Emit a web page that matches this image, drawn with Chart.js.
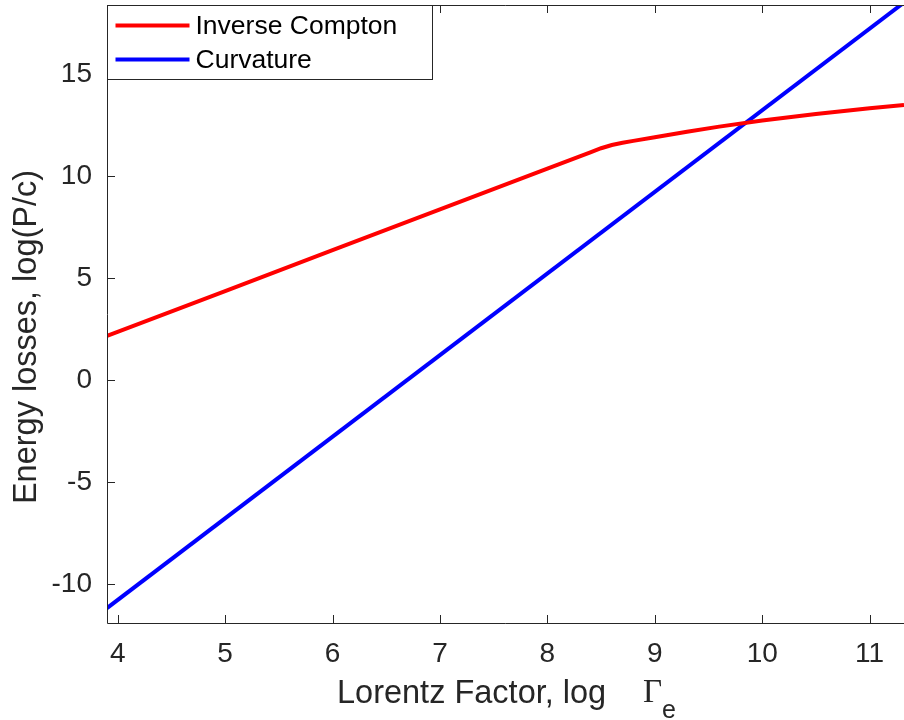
<!DOCTYPE html>
<html>
<head>
<meta charset="utf-8">
<title>Energy losses</title>
<script src="https://cdn.jsdelivr.net/npm/chart.js@4/dist/chart.umd.min.js"></script>
<style>
  html, body { margin: 0; padding: 0; background: #fff; }
  #wrap { width: 904px; height: 720px; position: relative; }
</style>
</head>
<body>
<div id="wrap"><canvas id="myChart" width="904" height="720"></canvas></div>
<script>
// log Lorentz factor vs. log(P/c)
const icGamma = [3.9, 5, 6, 7, 8, 8.4, 8.5, 8.6, 8.7, 8.8, 9.0, 9.3, 9.6, 10, 10.5, 11, 11.32];
const icLoss  = [2.16, 4.36, 6.36, 8.36, 10.36, 11.16, 11.36, 11.52, 11.63, 11.72, 11.9, 12.17, 12.42, 12.72, 13.04, 13.32, 13.48];
const curvGamma = [3.9, 11.32];
const curvLoss  = [-11.18, 18.5];
const seriesNames = ['Inverse Compton', 'Curvature'];
const xTicks = [4, 5, 6, 7, 8, 9, 10, 11];
const yTicks = [-10, -5, 0, 5, 10, 15];

const ink = '#262626';
const sans = "'Liberation Sans', Arial, sans-serif";

function pts(xs, ys) {
    return xs.map((x, i) => ({x: x, y: ys[i]}));
}

// axes box, inward ticks, legend and axis titles
const decorations = {
    id: 'decorations',
    afterDraw(chart) {
        const ctx = chart.ctx;
        const a = chart.chartArea;
        const xs = chart.scales.x, ys = chart.scales.y;
        ctx.save();
        ctx.strokeStyle = ink;
        ctx.lineWidth = 1;
        ctx.beginPath();
        ctx.moveTo(a.left + 0.5, a.top + 0.5);
        ctx.lineTo(a.left + 0.5, a.bottom + 0.5);
        ctx.lineTo(a.right, a.bottom + 0.5);
        ctx.moveTo(a.left + 0.5, a.top + 0.5);
        ctx.lineTo(a.right, a.top + 0.5);
        xTicks.forEach(t => {
            const px = Math.round(xs.getPixelForValue(t)) + 0.5;
            ctx.moveTo(px, a.bottom);
            ctx.lineTo(px, a.bottom - 8);
            ctx.moveTo(px, a.top);
            ctx.lineTo(px, a.top + 8);
        });
        yTicks.forEach(t => {
            const py = Math.round(ys.getPixelForValue(t)) + 0.5;
            ctx.moveTo(a.left, py);
            ctx.lineTo(a.left + 8, py);
        });
        ctx.stroke();

        // legend
        const lx = a.left + 0.5, ly = a.top + 0.5, lw = 325, lh = 74;
        ctx.fillStyle = '#fff';
        ctx.fillRect(lx, ly, lw, lh);
        ctx.strokeRect(lx, ly, lw, lh);
        ctx.font = '26.5px ' + sans;
        ctx.textBaseline = 'middle';
        chart.data.datasets.forEach((ds, i) => {
            const yy = ly + 20 + i * 34;
            ctx.strokeStyle = ds.borderColor;
            ctx.lineWidth = 4;
            ctx.beginPath();
            ctx.moveTo(lx + 8, yy);
            ctx.lineTo(lx + 82, yy);
            ctx.stroke();
            ctx.fillStyle = '#000';
            ctx.fillText(ds.label, lx + 88, yy + 1);
        });

        // x title with Gamma_e
        ctx.fillStyle = ink;
        ctx.textBaseline = 'alphabetic';
        ctx.font = '32.5px ' + sans;
        ctx.fillText('Lorentz Factor, log', 337, 703);
        ctx.font = "33px 'Liberation Serif', 'DejaVu Serif', serif";
        ctx.fillText('Γ', 643, 702);
        ctx.font = '25px ' + sans;
        ctx.fillText('e', 662, 718);

        // y title
        ctx.translate(36, 337);
        ctx.rotate(-Math.PI / 2);
        ctx.font = '32.5px ' + sans;
        ctx.textAlign = 'center';
        ctx.fillText('Energy losses, log(P/c)', 0, 0);
        ctx.restore();
    }
};

const ctx = document.getElementById('myChart').getContext('2d');
const myChart = new Chart(ctx, {
    type: 'line',
    data: {
        datasets: [{
            label: seriesNames[0],
            data: pts(icGamma, icLoss),
            borderColor: '#ff0000',
            borderWidth: 4,
            pointRadius: 0,
            tension: 0
        }, {
            label: seriesNames[1],
            data: pts(curvGamma, curvLoss),
            borderColor: '#0000ff',
            borderWidth: 4,
            pointRadius: 0,
            tension: 0
        }]
    },
    options: {
        responsive: false,
        animation: false,
        events: [],
        layout: {padding: {top: 5, right: 0, left: 0, bottom: 0}},
        plugins: {legend: {display: false}, tooltip: {enabled: false}},
        scales: {
            x: {
                type: 'linear',
                min: 3.9,
                max: 11.32,
                grid: {display: false, drawTicks: false},
                border: {display: false},
                ticks: {
                    stepSize: 1,
                    includeBounds: false,
                    autoSkip: false,
                    maxRotation: 0,
                    color: ink,
                    padding: 14,
                    font: {family: sans, size: 28}
                },
                afterFit(scale) {
                    scale.height = 97;
                    scale.paddingLeft = 0;
                    scale.paddingRight = 0;
                }
            },
            y: {
                min: -11.91,
                max: 18.38,
                grid: {display: false, drawTicks: false},
                border: {display: false},
                ticks: {
                    stepSize: 5,
                    includeBounds: false,
                    color: ink,
                    padding: 15,
                    font: {family: sans, size: 28}
                },
                afterFit(scale) {
                    scale.width = 107;
                    scale.paddingTop = 0;
                    scale.paddingBottom = 0;
                }
            }
        }
    },
    plugins: [decorations]
});
</script>
</body>
</html>
